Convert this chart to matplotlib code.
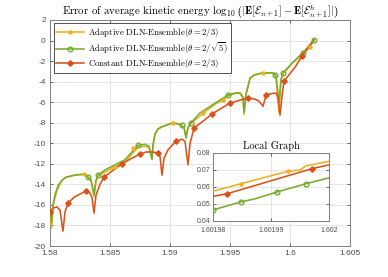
import numpy as np
import matplotlib
matplotlib.use("Agg")
import matplotlib.pyplot as plt

plt.rcParams['mathtext.fontset'] = 'cm'
plt.rcParams['font.family'] = ['Liberation Sans', 'DejaVu Sans']

# - colours (MATLAB default order)
C_ORANGE = "#EDB120"
C_GREEN  = "#77AC30"
C_RED    = "#D95319"

# - adaptive theta = 2/3 (orange)
orange_x = [1.58000, 1.58013, 1.58025, 1.58058, 1.58100, 1.58133, 1.58208, 1.58292, 1.58317,
            1.58342, 1.58367, 1.58383, 1.58400, 1.58458, 1.58542, 1.58625, 1.58733, 1.58792,
            1.58825, 1.58850, 1.58858, 1.58875, 1.58900, 1.58933, 1.59025, 1.59092, 1.59117,
            1.59133, 1.59150, 1.59175, 1.59275, 1.59375, 1.59442, 1.59483, 1.59542, 1.59583,
            1.59608, 1.59617, 1.59633, 1.59667, 1.59700, 1.59775, 1.59858, 1.59883, 1.59908,
            1.59925, 1.59942, 1.60025, 1.60108, 1.60167, 1.60200]
orange_y = [-16.5, -18.25, -16.1, -14.6, -13.6, -13.3, -13.1, -13.0, -13.3,
            -13.6, -15.2, -13.7, -13.2, -12.8, -12.3, -11.8, -10.4, -10.3,
            -10.4, -11.4, -10.2, -9.1, -8.6, -8.4, -8.0, -8.2, -8.5,
            -9.3, -8.5, -8.05, -7.1, -6.2, -5.8, -5.4, -5.15, -5.15,
            -5.6, -7.2, -5.3, -3.7, -3.4, -3.15, -3.15, -3.45, -7.0,
            -3.8, -3.2, -2.15, -1.25, -0.65, 0.075]
orange_mx = [1.58283, 1.58542, 1.58692, 1.59025, 1.59275, 1.59442, 1.59775, 1.60167]
orange_my = [-13.0, -12.3, -10.45, -8.0, -7.1, -5.8, -3.15, -0.65]

# - adaptive theta = 2/sqrt(5) (green)
green_x = [1.58000, 1.58013, 1.58025, 1.58042, 1.58067, 1.58100, 1.58133, 1.58208, 1.58292,
           1.58317, 1.58342, 1.58367, 1.58383, 1.58400, 1.58458, 1.58542, 1.58625, 1.58733,
           1.58792, 1.58825, 1.58850, 1.58858, 1.58875, 1.58900, 1.58933, 1.59025, 1.59092,
           1.59117, 1.59133, 1.59150, 1.59175, 1.59250, 1.59375, 1.59483, 1.59542, 1.59583,
           1.59608, 1.59617, 1.59633, 1.59667, 1.59700, 1.59767, 1.59858, 1.59883, 1.59908,
           1.59925, 1.59942, 1.60025, 1.60108, 1.60200]
green_y = [-16.5, -17.7, -16.0, -15.0, -14.1, -13.6, -13.3, -13.1, -13.0,
           -13.3, -13.6, -15.0, -13.6, -13.1, -12.6, -12.1, -11.6, -10.2,
           -10.1, -10.3, -11.6, -10.2, -9.1, -8.6, -8.4, -8.0, -8.2,
           -8.5, -9.5, -8.5, -8.0, -7.05, -6.1, -5.3, -5.1, -5.1,
           -5.5, -7.0, -5.2, -3.65, -3.35, -3.15, -3.15, -3.45, -6.0,
           -3.8, -3.15, -2.1, -1.2, 0.065]
green_mx = [1.58317, 1.58400, 1.58733, 1.59100, 1.59175, 1.59483, 1.59875, 1.59942, 1.60108, 1.60200]
green_my = [-13.3, -13.1, -10.2, -8.2, -8.0, -5.3, -3.35, -3.15, -1.2, 0.065]

# - constant theta = 2/3 (red)
red_x = [1.58000, 1.58025, 1.58058, 1.58083, 1.58108, 1.58125, 1.58150, 1.58208, 1.58267,
         1.58300, 1.58333, 1.58350, 1.58367, 1.58383, 1.58417, 1.58450, 1.58517, 1.58600,
         1.58667, 1.58750, 1.58800, 1.58850, 1.58900, 1.58917, 1.58933, 1.58950, 1.58983,
         1.59017, 1.59050, 1.59100, 1.59125, 1.59150, 1.59167, 1.59200, 1.59275, 1.59350,
         1.59433, 1.59500, 1.59583, 1.59650, 1.59708, 1.59742, 1.59775, 1.59800, 1.59833,
         1.59883, 1.59900, 1.59917, 1.59933, 1.59950, 1.60042, 1.60100, 1.60200]
red_y = [-16.7, -16.3, -16.2, -16.5, -18.55, -16.7, -15.8, -15.2, -14.85,
         -14.65, -14.85, -15.3, -16.8, -15.05, -13.97, -13.3, -12.7, -12.0,
         -11.55, -11.05, -10.85, -10.85, -10.95, -11.3, -13.1, -11.45, -10.65,
         -10.2, -9.8, -9.6, -9.8, -12.1, -10.0, -8.5, -7.85, -7.15,
         -6.55, -6.1, -5.8, -5.6, -5.7, -5.9, -6.4, -5.3, -5.2,
         -5.1, -5.6, -7.25, -5.4, -3.95, -2.6, -1.5, 0.073]
red_mx = [1.5800, 1.5815, 1.5830, 1.5845, 1.5860, 1.5875, 1.5890, 1.5905, 1.5920, 1.5935,
          1.5950, 1.5965, 1.5980, 1.5995, 1.6010]
red_my = [-16.7, -15.8, -14.65, -13.3, -12.0, -11.05, -10.95, -9.8, -8.5, -7.15,
          -6.1, -5.6, -5.3, -3.95, -1.5]

# - local graph (zoom near t = 1.602)
loc_orange_x = [1.601980, 1.6019849, 1.601993, 1.601995, 1.601996, 1.602000]
loc_orange_y = [0.0575, 0.0620, 0.0693, 0.0700, 0.0724, 0.0751]
loc_orange_mx = [1.6019849, 1.601993]
loc_orange_my = [0.0620, 0.0693]

loc_red_x = [1.601980, 1.6019824, 1.6019971, 1.602000]
loc_red_y = [0.0545, 0.0560, 0.0708, 0.0730]
loc_red_mx = [1.6019824, 1.6019971]
loc_red_my = [0.0560, 0.0708]

loc_green_x = [1.601980, 1.6019849, 1.6019872, 1.601991, 1.601996, 1.602000]
loc_green_y = [0.0465, 0.0513, 0.0530, 0.0570, 0.0619, 0.0654]
loc_green_mx = [1.601980, 1.6019849, 1.601991, 1.601996]
loc_green_my = [0.0465, 0.0513, 0.0570, 0.0619]

x_ticks = [1.58, 1.585, 1.59, 1.595, 1.6, 1.605]
x_labels = ["1.58", "1.585", "1.59", "1.595", "1.6", "1.605"]
y_ticks = list(range(-20, 3, 2))
loc_x_ticks = [1.60198, 1.60199, 1.602]
loc_x_labels = ["1.60198", "1.60199", "1.602"]
loc_y_ticks = [0.04, 0.05, 0.06, 0.07, 0.08]

labels = [r"Adaptive DLN-Ensemble($\theta = 2/3$)",
          r"Adaptive DLN-Ensemble($\theta = 2/\sqrt{5}$)",
          r"Constant DLN-Ensemble($\theta = 2/3$)"]

SERIF = "cmr10"
LW = 1.15

# - marker styles: (marker, size, filled)
MK_ORANGE = (".", 4.5, True)
MK_GREEN  = ("o", 3.4, False)
MK_RED    = ("D", 2.8, True)


def style_axes(ax, fs):
    ax.grid(True, color="0.88", linewidth=0.6)
    ax.set_axisbelow(True)
    ax.tick_params(direction="in", top=True, right=True, labelsize=fs,
                   colors="0.3", length=2.5, width=0.6, pad=3)
    for s in ax.spines.values():
        s.set_color("0.5")
        s.set_linewidth(0.7)


def draw(ax, lx, ly, mx, my, color, mk):
    marker, ms, filled = mk
    ax.plot(lx, ly, color=color, linewidth=LW, zorder=3)
    ax.plot(mx, my, linestyle="none", marker=marker, markersize=ms, color=color,
            markerfacecolor=color if filled else "none", markeredgewidth=1.0, zorder=4)


def handle(ax, color, mk):
    marker, ms, filled = mk
    h, = ax.plot([], [], color=color, linewidth=LW, marker=marker, markersize=ms,
                 markerfacecolor=color if filled else "none", markeredgewidth=1.0)
    return h


def main():
    fig = plt.figure(figsize=(3.88, 2.77), dpi=100)
    ax = fig.add_axes([0.1289, 0.1119, 0.7732, 0.8159])

    draw(ax, orange_x, orange_y, orange_mx, orange_my, C_ORANGE, MK_ORANGE)
    draw(ax, green_x, green_y, green_mx, green_my, C_GREEN, MK_GREEN)
    draw(ax, red_x, red_y, red_mx, red_my, C_RED, MK_RED)

    ax.set_xlim(1.58, 1.605)
    ax.set_ylim(-20, 2)
    ax.set_xticks(x_ticks)
    ax.set_xticklabels(x_labels)
    ax.set_yticks(y_ticks)
    ax.set_yticklabels([str(v) for v in y_ticks])
    style_axes(ax, 6)

    ax.set_title(r"Error of average kinetic energy $\log_{10}\left(|\mathbf{E}[\mathcal{E}_{n+1}]"
                 r"-\mathbf{E}[\mathcal{E}^h_{n+1}]|\right)$",
                 fontsize=7.8, family=SERIF, pad=4)

    # - legend with line + marker handles
    hs = [handle(ax, C_ORANGE, MK_ORANGE), handle(ax, C_GREEN, MK_GREEN), handle(ax, C_RED, MK_RED)]
    leg = ax.legend(hs, labels, loc="upper left",
                    prop={"family": SERIF, "size": 6.3}, handlelength=3.2,
                    borderpad=0.3, labelspacing=0.15, handletextpad=0.4,
                    fancybox=False, framealpha=1, borderaxespad=0.4)
    leg.get_frame().set_edgecolor("0.2")
    leg.get_frame().set_linewidth(0.6)

    # - inset local graph
    ins = fig.add_axes([0.549, 0.2022, 0.299, 0.2455])
    draw(ins, loc_orange_x, loc_orange_y, loc_orange_mx, loc_orange_my, C_ORANGE, MK_ORANGE)
    draw(ins, loc_red_x, loc_red_y, loc_red_mx, loc_red_my, C_RED, MK_RED)
    draw(ins, loc_green_x, loc_green_y, loc_green_mx, loc_green_my, C_GREEN, MK_GREEN)
    ins.set_xlim(1.60198, 1.602)
    ins.set_ylim(0.04, 0.08)
    ins.set_xticks(loc_x_ticks)
    ins.set_xticklabels(loc_x_labels)
    ins.set_yticks(loc_y_ticks)
    ins.set_yticklabels(["0.04", "0.05", "0.06", "0.07", "0.08"])
    style_axes(ins, 5)
    ins.tick_params(axis="y", pad=2)
    ins.tick_params(axis="x", pad=4)
    ins.set_title("Local Graph", fontsize=7.5, family=SERIF, pad=3)

    fig.savefig("out.png", dpi=100)


if __name__ == "__main__":
    main()
